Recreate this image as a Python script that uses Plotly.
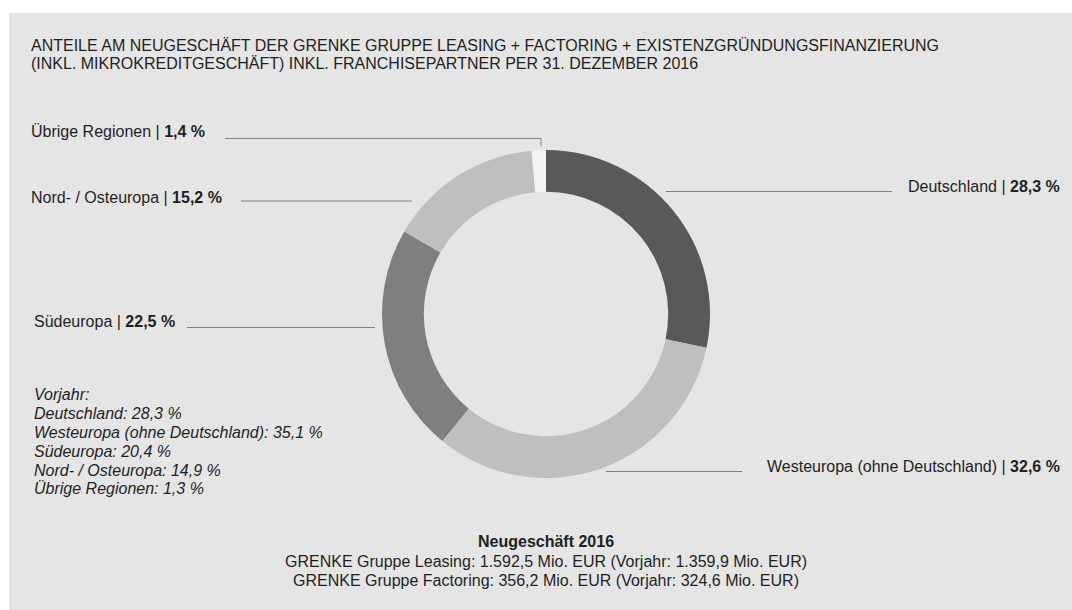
import plotly.graph_objects as go

W, H = 1072, 610

regions = ["Deutschland", "Westeuropa (ohne Deutschland)", "Südeuropa", "Nord- / Osteuropa", "Übrige Regionen"]
shares = [28.3, 32.6, 22.5, 15.2, 1.4]
share_text = ["28,3 %", "32,6 %", "22,5 %", "15,2 %", "1,4 %"]
colors = ["#595959", "#bfbfbf", "#7f7f7f", "#bfbfbf", "#f2f2f2"]

title_lines = [
    "ANTEILE AM NEUGESCHÄFT DER GRENKE GRUPPE LEASING + FACTORING + EXISTENZGRÜNDUNGSFINANZIERUNG",
    "(INKL. MIKROKREDITGESCHÄFT) INKL. FRANCHISEPARTNER PER 31. DEZEMBER 2016",
]
vorjahr_lines = [
    "Vorjahr:",
    "Deutschland: 28,3 %",
    "Westeuropa (ohne Deutschland): 35,1 %",
    "Südeuropa: 20,4 %",
    "Nord- / Osteuropa: 14,9 %",
    "Übrige Regionen: 1,3 %",
]
footer_lines = [
    "<b>Neugeschäft 2016</b>",
    "GRENKE Gruppe Leasing: 1.592,5 Mio. EUR (Vorjahr: 1.359,9 Mio. EUR)",
    "GRENKE Gruppe Factoring: 356,2 Mio. EUR (Vorjahr: 324,6 Mio. EUR)",
]

FONT = "Liberation Sans, Arial, sans-serif"
TXT = "#1f1f1f"
LINE = "#808080"


def px(x):
    return x / W


def py(y):
    return 1 - y / H


fig = go.Figure()
fig.add_trace(go.Pie(
    labels=regions,
    values=shares,
    sort=False,
    direction="clockwise",
    rotation=0,
    hole=0.745,
    marker=dict(colors=colors, line=dict(width=0)),
    textinfo="none",
    hoverinfo="label+percent",
    showlegend=False,
    domain=dict(x=[px(382), px(710)], y=[py(478), py(150)]),
))

shapes = [dict(type="rect", xref="paper", yref="paper", x0=px(9), x1=1, y0=0, y1=py(13),
               fillcolor="#e5e5e5", line=dict(width=0), layer="below")]


def seg(x0, y0, x1, y1):
    shapes.append(dict(type="line", xref="paper", yref="paper", x0=px(x0), y0=py(y0),
                       x1=px(x1), y1=py(y1), line=dict(color=LINE, width=1)))


# leader lines
seg(225, 138.5, 541, 138.5)
seg(541, 138.5, 541, 146)
seg(241, 201, 412, 201)
seg(187, 327.5, 375, 327.5)
seg(666, 191.5, 892, 191.5)
seg(606, 471.5, 742, 471.5)

annotations = []


def ann(text, x, y, xanchor="left", italic=False):
    annotations.append(dict(
        text=text, xref="paper", yref="paper", x=px(x), y=py(y),
        xanchor=xanchor, yanchor="middle", showarrow=False,
        font=dict(family=FONT, size=16, color=TXT,
                  style="italic" if italic else "normal"),
    ))


ann(title_lines[0], 29, 46)
ann(title_lines[1], 29, 63.5)

label_pos = {
    0: (1062, 186, "right"),
    1: (1062, 466, "right"),
    2: (32, 321, "left"),
    3: (29, 198, "left"),
    4: (29, 132, "left"),
}
for i, (name, st) in enumerate(zip(regions, share_text)):
    x, y, xa = label_pos[i]
    ann(f"{name} | <b>{st}</b>", x, y, xa)

vy = [394, 413, 432, 451, 470, 488]
for line, y in zip(vorjahr_lines, vy):
    ann(line, 32, y, italic=True)

fy = [541.5, 561, 580]
for line, y in zip(footer_lines, fy):
    ann(line, 546, y, xanchor="center")

fig.update_layout(
    width=W, height=H, autosize=False,
    margin=dict(l=0, r=0, t=0, b=0),
    paper_bgcolor="white", plot_bgcolor="white",
    shapes=shapes, annotations=annotations,
)

fig.write_html(
    "out.html",
    config={"displayModeBar": False},
    post_script="document.body.style.margin='0';document.body.style.overflow='hidden';"
                "document.documentElement.style.overflow='hidden';",
)
